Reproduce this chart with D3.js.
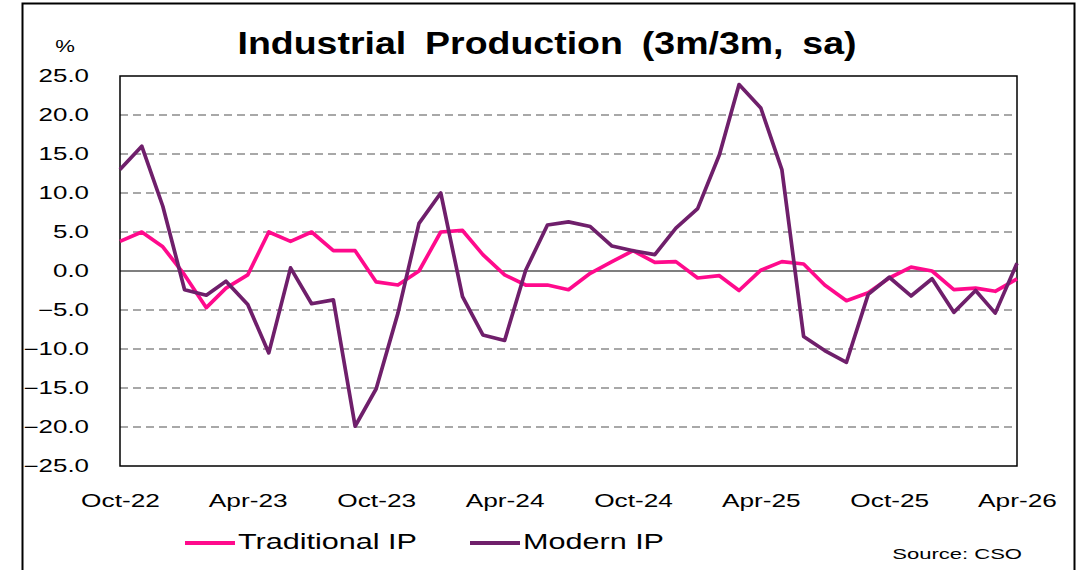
<!DOCTYPE html>
<html>
<head>
<meta charset="utf-8">
<script src="https://cdn.jsdelivr.net/npm/d3@7"></script>
<style>
  body { margin: 0; background: #fff; }
  svg { display: block; font-family: "Liberation Sans", Arial, sans-serif; }
</style>
</head>
<body>
<svg id="chart"></svg>
<script>
var width = 1089;
var height = 570;

// monthly, Oct-22 .. Apr-26
var startMonth = new Date(2022, 9, 1);
var traditional = [3.8, 5.0, 3.1, -0.5, -4.7, -2.2, -0.5, 5.0, 3.8, 5.0, 2.6, 2.6, -1.4, -1.8, 0.0,
                   5.0, 5.2, 2.1, -0.5, -1.8, -1.8, -2.4, -0.3, 1.2, 2.6, 1.1, 1.2, -0.9, -0.6,
                   -2.5, 0.1, 1.2, 0.9, -1.8, -3.8, -2.8, -0.9, 0.5, 0.0, -2.4, -2.2, -2.6, -1.0];
var modern = [13.0, 16.0, 8.3, -2.4, -3.1, -1.3, -4.3, -10.5, 0.4, -4.2, -3.7, -19.9, -15.1, -5.4, 6.1,
              10.0, -3.3, -8.2, -8.9, 0.1, 5.9, 6.3, 5.7, 3.2, 2.6, 2.1, 5.5, 8.0, 14.9,
              23.9, 20.9, 13.0, -8.4, -10.2, -11.7, -3.0, -0.8, -3.2, -1.0, -5.3, -2.5, -5.4, 1.0];
var yTicks = [25, 20, 15, 10, 5, 0, -5, -10, -15, -20, -25];
var xTickLabels = ["Oct-22", "Apr-23", "Oct-23", "Apr-24", "Oct-24", "Apr-25", "Oct-25", "Apr-26"];
var seriesNames = ["Traditional IP", "Modern IP"];

var colors = { traditional: "#ff0a8c", modern: "#6f1f6b" };
var margins = { left: 120, right: 72, top: 76, bottom: 104 };
var stretch = 1.42; // the source text is drawn wide

var months = traditional.map(function(d, i) {
    return d3.timeMonth.offset(startMonth, i);
});

var xscale = d3.scaleTime()
    .domain([months[0], months[months.length - 1]])
    .range([margins.left, width - margins.right]);
var yscale = d3.scaleLinear()
    .domain([-25, 25])
    .range([height - margins.bottom, margins.top]);

var svg = d3.select("#chart")
    .attr("width", width)
    .attr("height", height);

// put a wide text at x,y
function wideText(x, y, str, size, sx) {
    return svg.append("text")
        .attr("transform", "translate(" + x + "," + y + ") scale(" + sx + ",1)")
        .attr("font-size", size)
        .text(str);
}

// outer frame
svg.append("rect")
    .attr("x", 22.5).attr("y", 3.5)
    .attr("width", 1052).attr("height", 600)
    .attr("fill", "none").attr("stroke", "#000").attr("stroke-width", 2);

// gridlines
svg.append("g").selectAll("line")
    .data(yTicks.filter(function(d) { return d !== 0 && d !== 25 && d !== -25; }))
    .enter().append("line")
    .attr("x1", margins.left).attr("x2", width - margins.right)
    .attr("y1", function(d) { return yscale(d); })
    .attr("y2", function(d) { return yscale(d); })
    .attr("stroke", "#8c8c8c")
    .attr("stroke-width", 1.3)
    .attr("stroke-dasharray", "8,5");

// zero line
svg.append("line")
    .attr("x1", margins.left).attr("x2", width - margins.right)
    .attr("y1", yscale(0)).attr("y2", yscale(0))
    .attr("stroke", "#000").attr("stroke-width", 1.2);

// plot box
svg.append("rect")
    .attr("x", margins.left).attr("y", yscale(25))
    .attr("width", width - margins.right - margins.left)
    .attr("height", yscale(-25) - yscale(25))
    .attr("fill", "none").attr("stroke", "#000").attr("stroke-width", 1.5);

// y axis labels
var yaxis = d3.axisLeft(yscale)
    .tickValues(yTicks)
    .tickFormat(d3.format(".1f"))
    .tickSize(0)
    .tickPadding(31);
svg.append("g")
    .attr("transform", "translate(" + margins.left + ",0)")
    .call(yaxis)
    .call(function(g) {
        g.select(".domain").remove();
        g.selectAll("text")
            .attr("font-size", 17.5)
            .attr("fill", "#000")
            .attr("font-family", "Liberation Sans, Arial, sans-serif")
            .attr("x", -31 / 1.48)
            .attr("transform", "scale(1.48,1)");
    });

// x axis labels
var xTickDates = xTickLabels.map(function(d, i) {
    return d3.timeMonth.offset(startMonth, i * 6);
});
var xaxis = d3.axisBottom(xscale)
    .tickValues(xTickDates)
    .tickFormat(function(d, i) { return xTickLabels[i]; })
    .tickSize(0)
    .tickPadding(28);
svg.append("g")
    .attr("transform", "translate(0," + yscale(-25) + ")")
    .call(xaxis)
    .call(function(g) {
        g.select(".domain").remove();
        g.selectAll("text")
            .attr("font-size", 18.5)
            .attr("fill", "#000")
            .attr("font-family", "Liberation Sans, Arial, sans-serif")
            .attr("transform", "scale(" + stretch + ",1)");
    });

// lines
var line = d3.line()
    .x(function(d, i) { return xscale(months[i]); })
    .y(function(d) { return yscale(d); });

svg.append("path")
    .datum(traditional)
    .attr("d", line)
    .attr("fill", "none")
    .attr("stroke", colors.traditional)
    .attr("stroke-width", 3.7)
    .attr("stroke-linejoin", "round");

svg.append("path")
    .datum(modern)
    .attr("d", line)
    .attr("fill", "none")
    .attr("stroke", colors.modern)
    .attr("stroke-width", 3.7)
    .attr("stroke-linejoin", "round");

// title and unit
wideText(547, 54, "Industrial Production (3m/3m, sa)", 31, 1.21)
    .attr("text-anchor", "middle")
    .attr("font-weight", "bold")
    .attr("word-spacing", 7);

wideText(65, 52, "%", 17, 1.3)
    .attr("text-anchor", "middle");

// legend
var legendItems = [
    { name: seriesNames[0], color: colors.traditional, x: 185 },
    { name: seriesNames[1], color: colors.modern, x: 470 }
];
legendItems.forEach(function(d) {
    svg.append("line")
        .attr("x1", d.x).attr("x2", d.x + 50)
        .attr("y1", 543).attr("y2", 543)
        .attr("stroke", d.color).attr("stroke-width", 4);
    wideText(d.x + 53, 549, d.name, 22, 1.39);
});

wideText(1022, 559, "Source: CSO", 15, 1.47)
    .attr("text-anchor", "end");
</script>
</body>
</html>
